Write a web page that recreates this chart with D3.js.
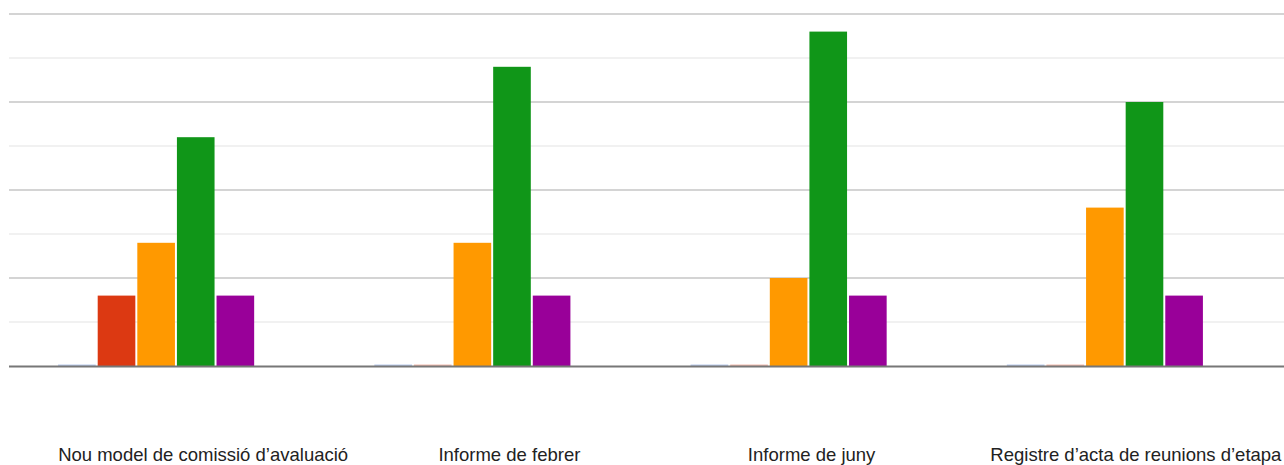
<!DOCTYPE html>
<html>
<head>
<meta charset="utf-8">
<script src="https://cdn.jsdelivr.net/npm/d3@7"></script>
<style>
  body { margin: 0; background: #fff; }
  svg { display: block; }
</style>
</head>
<body>
<script>
// categories (x axis) and the five answer series
var categories = ['Nou model de comissió d’avaluació', 'Informe de febrer',
                  'Informe de juny', 'Registre d’acta de reunions d’etapa'];
var seriesNames = ['1', '2', '3', '4', '5'];
var seriesColors = ['#3366cc', '#dc3912', '#ff9900', '#109618', '#990099'];

var s1 = [0, 0, 0, 0];
var s2 = [4, 0, 0, 0];
var s3 = [7, 7, 5, 9];
var s4 = [13, 17, 19, 15];
var s5 = [4, 4, 4, 4];
var seriesValues = [s1, s2, s3, s4, s5];

var yTicks = [0, 2.5, 5, 7.5, 10, 12.5, 15, 17.5, 20];

var w = 1284,
    h = 465;

var svg = d3.select('body')
            .append('svg')
            .attr('width', w)
            .attr('height', h);

// plot area is cropped on the left, so the band range starts a bit off-canvas
var xScale = d3.scaleBand()
               .domain(d3.range(categories.length))
               .range([-2, 1263])
               .paddingInner(0.38)
               .paddingOuter(0.19);

var xInner = d3.scaleBand()
               .domain(d3.range(seriesNames.length))
               .range([0, xScale.bandwidth()])
               .paddingInner(0.05);

var yScale = d3.scaleLinear()
               .domain([0, 20])
               .range([366, 14]);

// gridlines (every 5 is a stronger line)
svg.append('g')
   .selectAll('line')
   .data(yTicks.filter(function(d) { return d > 0; }))
   .enter()
   .append('line')
   .attr('x1', 9)
   .attr('x2', w)
   .attr('y1', function(d) { return yScale(d); })
   .attr('y2', function(d) { return yScale(d); })
   .attr('stroke', function(d) { return d % 5 === 0 ? '#d4d4d4' : '#ececec'; })
   .attr('stroke-width', function(d) { return d % 5 === 0 ? 2 : 1.5; });

// bars
var groups = svg.append('g')
   .selectAll('g')
   .data(categories)
   .enter()
   .append('g')
   .attr('transform', function(d, i) {
      return 'translate(' + xScale(i) + ',0)';
   });

groups.selectAll('rect')
   .data(function(d, i) {
      return seriesValues.map(function(vals, s) {
         return { s: s, v: vals[i] };
      });
   })
   .enter()
   .append('rect')
   .attr('x', function(d) { return xInner(d.s); })
   .attr('width', xInner.bandwidth())
   .attr('y', function(d) {
      return d.v > 0 ? yScale(d.v) : yScale(0) - 1.5; // zero values show as a thin line
   })
   .attr('height', function(d) {
      return d.v > 0 ? yScale(0) - yScale(d.v) : 1.5;
   })
   .attr('fill', function(d) { return seriesColors[d.s]; })
   .attr('fill-opacity', function(d) { return d.v > 0 ? 1 : 0.35; });

// baseline
svg.append('line')
   .attr('x1', 9)
   .attr('x2', w)
   .attr('y1', yScale(0) + 0.5)
   .attr('y2', yScale(0) + 0.5)
   .attr('stroke', '#777')
   .attr('stroke-width', 2);

// category labels sit a little right of their groups in the original
var labelNudge = [47, 37, 23, 31];

svg.append('g')
   .selectAll('text')
   .data(categories)
   .enter()
   .append('text')
   .text(function(d) { return d; })
   .attr('x', function(d, i) {
      return xScale(i) + xScale.bandwidth() / 2 + labelNudge[i];
   })
   .attr('y', 461)
   .attr('font-family', 'Liberation Sans, Arial, sans-serif')
   .attr('font-size', '18.5px')
   .attr('fill', '#222')
   .attr('text-anchor', 'middle');
</script>
</body>
</html>
